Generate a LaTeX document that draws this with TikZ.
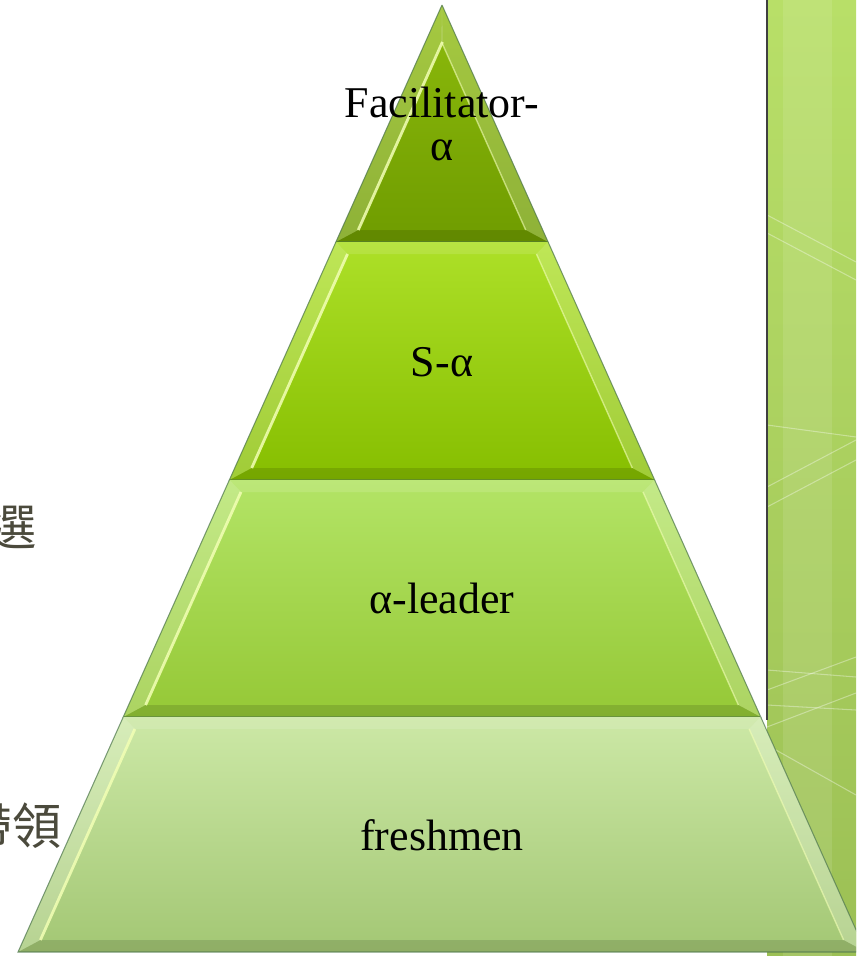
\documentclass[tikz,border=0pt]{standalone}
\usepackage{fontspec}
\setmainfont{Liberation Serif}
\newfontfamily\cjkfont{Noto Sans CJK TC}
\definecolor{panelTop}{HTML}{B8DF68}
\definecolor{panelBot}{HTML}{9CC055}
\definecolor{tAtop}{HTML}{8DBB0C}
\definecolor{tAbot}{HTML}{6F9C00}
\definecolor{tBtop}{HTML}{ADE028}
\definecolor{tBbot}{HTML}{86BE00}
\definecolor{tCtop}{HTML}{B3E466}
\definecolor{tCbot}{HTML}{95C836}
\definecolor{tDtop}{HTML}{CCE8A6}
\definecolor{tDbot}{HTML}{A3C774}
\definecolor{glint}{HTML}{F2FFB4}
\definecolor{cjkgray}{HTML}{4B4A3C}
\tikzset{
  lbl/.style={font=\fontsize{25}{24}\selectfont, text=black, align=center},
  cjk/.style={font=\cjkfont\fontsize{28}{30}\selectfont, text=cjkgray, anchor=east, inner sep=0pt},
  bevlight/.style={fill=white, fill opacity=.22},
  bevdark/.style={fill=black, fill opacity=.12},
  glintline/.style={draw=glint, line width=1.6pt, opacity=.85},
  panelline/.style={draw=white, line width=.6pt, opacity=.35},
}
\begin{document}
\begin{tikzpicture}[x=0.02cm, y=-0.02cm]
\useasboundingbox (0,0) rectangle (856,956);
\clip (0,0) rectangle (856,956);

% side panel
\shade[top color=panelTop, bottom color=panelBot] (767,0) rectangle (856,956);
\fill[white, opacity=.1] (783,0) rectangle (832,956);
\draw[panelline] (767,215) -- (856,262);
\draw[panelline] (767,233) -- (856,280);
\draw[panelline] (767,425) -- (856,437);
\draw[panelline] (767,487) -- (856,440);
\draw[panelline] (767,507) -- (856,460);
\draw[panelline] (767,670) -- (856,677);
\draw[panelline] (767,690) -- (856,657);
\draw[panelline] (767,705) -- (856,710);
\draw[panelline] (767,727) -- (856,693);
\draw[panelline] (767,745) -- (856,795);
\draw[black!75, line width=1.2pt] (767,0) -- (767,720);

% pyramid tiers
\foreach \ya/\yb/\it/\ctop/\cbot in {5/242/37/tAtop/tAbot, 242/480/12/tBtop/tBbot, 480/717/12/tCtop/tCbot, 717/952/12/tDtop/tDbot}{
  \pgfmathsetmacro\La{442-0.4477*(\ya-5)}
  \pgfmathsetmacro\Ra{442+0.4477*(\ya-5)}
  \pgfmathsetmacro\Lb{442-0.4477*(\yb-5)}
  \pgfmathsetmacro\Rb{442+0.4477*(\yb-5)}
  \pgfmathsetmacro\yc{\ya+\it}
  \pgfmathsetmacro\yd{\yb-12}
  \pgfmathsetmacro\Lc{442-0.4477*(\yc-5)+17}
  \pgfmathsetmacro\Rc{442+0.4477*(\yc-5)-17}
  \pgfmathsetmacro\Ld{442-0.4477*(\yd-5)+17}
  \pgfmathsetmacro\Rd{442+0.4477*(\yd-5)-17}
  \shade[top color=\ctop, bottom color=\cbot] (\La,\ya) -- (\Ra,\ya) -- (\Rb,\yb) -- (\Lb,\yb) -- cycle;
  \fill[bevlight] (\La,\ya) -- (\Lc,\yc) -- (\Ld,\yd) -- (\Lb,\yb) -- cycle;
  \fill[bevlight] (\Ra,\ya) -- (\Rc,\yc) -- (\Rd,\yd) -- (\Rb,\yb) -- cycle;
  \fill[white, fill opacity=.12] (\La,\ya) -- (\Ra,\ya) -- (\Rc,\yc) -- (\Lc,\yc) -- cycle;
  \fill[bevdark] (\Lb,\yb) -- (\Rb,\yb) -- (\Rd,\yd) -- (\Ld,\yd) -- cycle;
  \draw[glintline] (\Lc,\yc) -- (\Ld,\yd);
  \draw[glint, line width=.8pt, opacity=.6] (\Rc,\yc) -- (\Rd,\yd);
  \draw[black!60!green!40!gray, line width=.6pt, opacity=.7] (\La,\ya) -- (\Lb,\yb) -- (\Rb,\yb) -- (\Ra,\ya);
}

% labels
\node[lbl] (apex) at (442,124) {Facilitator-\\α};
\node[lbl] (senior) at (442,362) {S-α};
\node[lbl] (leader) at (442,598) {α-leader};
\node[lbl] (fresh) at (442,835) {freshmen};
\node[cjk] (cjka) at (37,527) {選};
\node[cjk] (cjkb) at (62,826) {帶領};

\end{tikzpicture}
\end{document}
